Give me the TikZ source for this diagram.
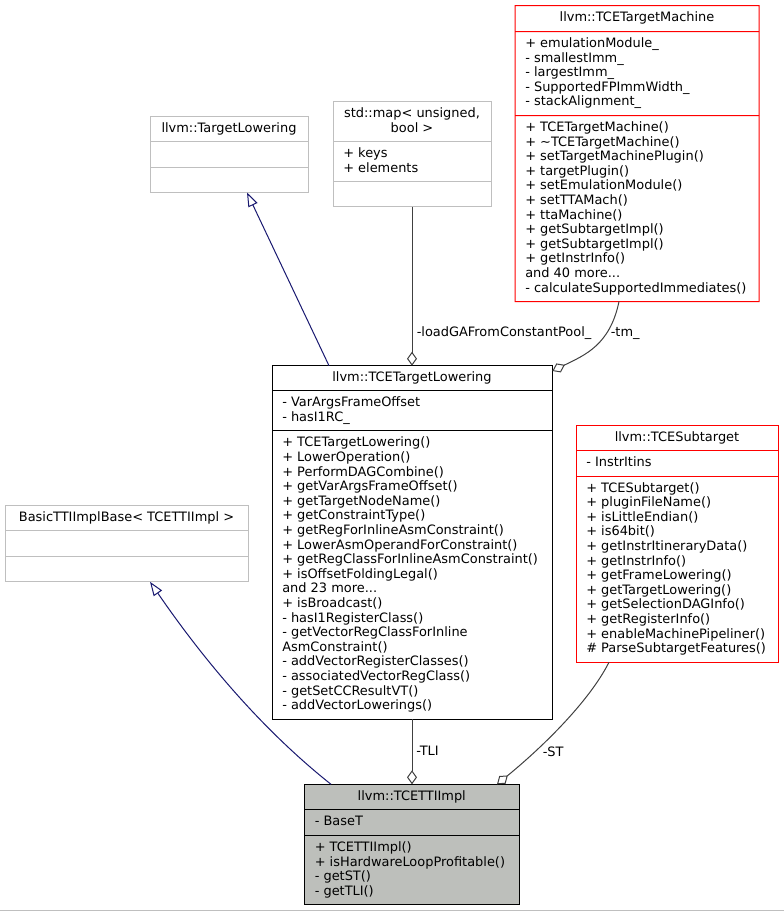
\documentclass[tikz,border=0pt]{standalone}
\usepackage{fontspec}
\setmainfont{DejaVu Sans}
\usepackage{tikz}
\usetikzlibrary{arrows.meta, calc}

\definecolor{grisclair}{RGB}{191,191,191}
\definecolor{grisfonce}{RGB}{64,64,64}
\definecolor{bleunuit}{RGB}{25,25,112}
\definecolor{fondgris}{RGB}{189,191,187}
\definecolor{rouge}{RGB}{255,0,0}

\tikzset{
    boite/.style={draw=black, line width=0.75pt},
    boitegrise/.style={draw=grisclair, line width=0.75pt},
    boiterouge/.style={draw=rouge, line width=0.75pt},
    txt/.style={anchor=base west, inner sep=0pt},
    titre/.style={anchor=base, inner sep=0pt, align=center},
    herit/.style={draw=bleunuit, line width=0.75pt, -{Triangle[open, length=10.5pt, width=7.5pt]}},
    usage/.style={draw=grisfonce, line width=0.75pt, -{Diamond[open, length=10.5pt, width=7.5pt]}}
}

\begin{document}
\begin{tikzpicture}[x=0.75pt, y=-0.75pt, color=black, font=\fontsize{9.7}{12}\selectfont]
    % Paramètres
    \def\pas{14.6}    % hauteur d'une ligne (px)
    \def\points{.{}.{}.}
    \def\membres#1#2#3#4{%
        \foreach \ligne [count=\i from 0] in {#4}
            \node[txt] (#1-\i) at (#2, #3+\i*\pas) {\ligne};
    }

    \useasboundingbox (0,0) rectangle (784,911);

    % Trait du bas
    \draw[grisclair, line width=0.75pt] (0,910) -- (784,910);

    % TargetLowering
    \draw[boitegrise] (150,116) rectangle (308,192.5);
    \draw[boitegrise] (150,141.5) -- (308,141.5) (150,167) -- (308,167);
    \node[titre] (tlo) at (229,132) {llvm::TargetLowering};
    \coordinate (tlo-bas) at (247,192.5);

    % std::map
    \draw[boitegrise] (333,101.5) rectangle (491,206.5);
    \draw[boitegrise] (333,141.5) -- (491,141.5) (333,181) -- (491,181);
    \node[titre] (map) at (412,117.5) {std::map< unsigned,};
    \node[titre] (map-2) at (412,132.1) {bool >};
    \membres{map-a}{343}{157.5}{+ keys, + elements}
    \coordinate (map-bas) at (412,206.5);

    % TCETargetMachine (cadre rempli)
    \fill[rouge, even odd rule] (514.5,5) rectangle (759.5,302) (515.5,6) rectangle (758.5,301);
    \fill[rouge] (515,31) rectangle (759,32) (515,115) rectangle (759,116);
    \node[titre] (tm) at (637,21.5) {llvm::TCETargetMachine};
    \membres{tm-a}{525}{47.5}{+ emulationModule\_, - smallestImm\_, - largestImm\_,
        - SupportedFPImmWidth\_, - stackAlignment\_}
    \membres{tm-m}{525}{131.5}{+ TCETargetMachine(), + \textasciitilde TCETargetMachine(),
        + setTargetMachinePlugin(), + targetPlugin(), + setEmulationModule(),
        + setTTAMach(), + ttaMachine(), + getSubtargetImpl(), + getSubtargetImpl(),
        + getInstrInfo(), and 40 more\points, - calculateSupportedImmediates()}
    \coordinate (tm-bas) at (619,301.5);

    % TCETargetLowering
    \draw[boite] (272,365.7) rectangle (552.3,719.3);
    \draw[boite] (272,390.7) -- (552.3,390.7) (272,430.9) -- (552.3,430.9);
    \node[titre] (tl) at (412,381.7) {llvm::TCETargetLowering};
    \membres{tl-a}{282}{406.7}{- VarArgsFrameOffset, - hasI1RC\_}
    \membres{tl-m}{282}{446.9}{+ TCETargetLowering(), + LowerOperation(),
        + PerformDAGCombine(), + getVarArgsFrameOffset(), + getTargetNodeName(),
        + getConstraintType(), + getRegForInlineAsmConstraint(),
        + LowerAsmOperandForConstraint(), + getRegClassForInlineAsmConstraint(),
        + isOffsetFoldingLegal(), and 23 more\points, + isBroadcast(),
        - hasI1RegisterClass(), - getVectorRegClassForInline, AsmConstraint(),
        - addVectorRegisterClasses(), - associatedVectorRegClass(),
        - getSetCCResultVT(), - addVectorLowerings()}
    \coordinate (tl-haut) at (412,365.7);
    \coordinate (tl-herit) at (329,365.7);
    \coordinate (tl-droite) at (552.3,371);
    \coordinate (tl-bas) at (412,719.3);

    % TCESubtarget
    \draw[boiterouge] (576,425) rectangle (778,662.2);
    \draw[boiterouge] (576,450.5) -- (778,450.5) (576,476) -- (778,476);
    \node[titre] (sub) at (677,441) {llvm::TCESubtarget};
    \membres{sub-a}{586}{466.5}{- InstrItins}
    \membres{sub-m}{586}{492}{+ TCESubtarget(), + pluginFileName(), + isLittleEndian(),
        + is64bit(), + getInstrItineraryData(), + getInstrInfo(), + getFrameLowering(),
        + getTargetLowering(), + getSelectionDAGInfo(), + getRegisterInfo(),
        + enableMachinePipeliner(), \# ParseSubtargetFeatures()}
    \coordinate (sub-bas) at (609,662.2);

    % BasicTTIImplBase
    \draw[boitegrise] (5,505) rectangle (248,581.8);
    \draw[boitegrise] (5,530.6) -- (248,530.6) (5,556.2) -- (248,556.2);
    \node[titre] (base) at (126.5,521) {BasicTTIImplBase< TCETTIImpl >};
    \coordinate (base-bas) at (150,581.8);

    % TCETTIImpl
    \draw[boite, fill=fondgris] (304.5,784.3) rectangle (519,904.5);
    \draw[boite] (304.5,809.9) -- (519,809.9) (304.5,835.5) -- (519,835.5);
    \node[titre] (tti) at (411.75,800.3) {llvm::TCETTIImpl};
    \membres{tti-a}{314.5}{825.9}{- BaseT}
    \membres{tti-m}{314.5}{851.5}{+ TCETTIImpl(), + isHardwareLoopProfitable(),
        - getST(), - getTLI()}
    \coordinate (tti-haut) at (412,784.3);
    \coordinate (tti-herit) at (331,784.3);
    \coordinate (tti-st) at (497,784.3);

    % Liens
    \draw[herit] (tl-herit) -- (tlo-bas);
    \draw[usage] (map-bas) -- (tl-haut);
    \draw[usage] (tm-bas) .. controls (610,345) and (585,355) .. (tl-droite);
    \draw[herit] (tti-herit) .. controls (250,720) and (190,640) .. (base-bas);
    \draw[usage] (tl-bas) -- (tti-haut);
    \draw[usage] (sub-bas) .. controls (590,700) and (545,745) .. (tti-st);

    % Etiquettes
    \node[txt] (lbl-pool) at (416.5,336.5) {-loadGAFromConstantPool\_};
    \node[txt] (lbl-tm) at (610.5,336.5) {-tm\_};
    \node[txt] (lbl-tli) at (416,755.5) {-TLI};
    \node[txt] (lbl-st) at (542.5,756) {-ST};
\end{tikzpicture}
\end{document}
